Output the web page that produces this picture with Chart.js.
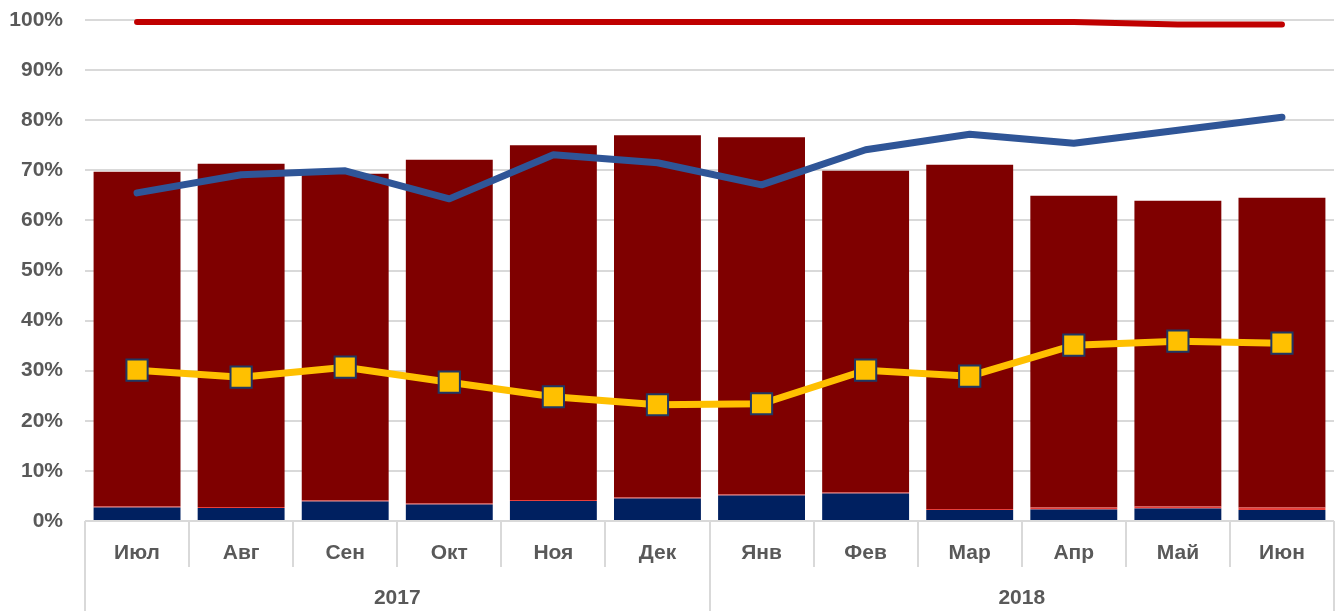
<!DOCTYPE html>
<html lang="ru">
<head>
<meta charset="UTF-8">
<title>Доли по месяцам</title>
<script src="https://cdn.jsdelivr.net/npm/chart.js"></script>
<style>
  html, body { margin: 0; padding: 0; background: #fff; }
  #wrap { width: 1340px; height: 611px; position: relative; }
</style>
</head>
<body>
<div id="wrap"><canvas id="chart"></canvas></div>
<script>
// данные (в процентах)
const months = ['Июл', 'Авг', 'Сен', 'Окт', 'Ноя', 'Дек', 'Янв', 'Фев', 'Мар', 'Апр', 'Май', 'Июн'];
const yearLabels = ['2017', '2018'];
const yearSpans = [6, 6];
const yTicks = [0, 10, 20, 30, 40, 50, 60, 70, 80, 90, 100];

const navyBars = [2.7, 2.6, 3.9, 3.3, 4.0, 4.5, 5.1, 5.5, 2.2, 2.3, 2.5, 2.2];
const redBars  = [0.2, 0.2, 0.2, 0.2, 0.2, 0.2, 0.2, 0.2, 0.2, 0.4, 0.4, 0.5];
const darkBars = [66.8, 68.5, 65.2, 68.6, 70.8, 72.3, 71.3, 64.2, 68.7, 62.2, 61.0, 61.8];

const redLine    = [99.6, 99.6, 99.6, 99.6, 99.6, 99.6, 99.6, 99.6, 99.6, 99.6, 99.1, 99.1];
const blueLine   = [65.5, 69.1, 69.9, 64.3, 73.1, 71.5, 67.1, 74.1, 77.2, 75.4, 78.0, 80.6];
const yellowLine = [30.1, 28.7, 30.7, 27.7, 24.8, 23.2, 23.4, 30.1, 28.9, 35.1, 35.9, 35.5];

const textColor = '#595959';
const gridColor = '#d9d9d9';
const font = { family: '"Liberation Sans", Arial, sans-serif', size: 21, weight: 'bold' };

// двухуровневая подпись оси X: разделители и годы
const categoryAxisPlugin = {
    id: 'categoryAxis',
    afterDraw(chart) {
        const ctx = chart.ctx;
        const x = chart.scales.x;
        const area = chart.chartArea;
        const step = x.width / months.length;
        const yearEdges = [0];
        yearSpans.forEach(s => yearEdges.push(yearEdges[yearEdges.length - 1] + s));

        ctx.save();
        ctx.strokeStyle = gridColor;
        ctx.lineWidth = 2;
        for (let i = 0; i <= months.length; i++) {
            const bx = Math.round(x.left + i * step);
            const full = yearEdges.includes(i);
            ctx.beginPath();
            ctx.moveTo(bx, area.bottom);
            ctx.lineTo(bx, full ? chart.height : area.bottom + 46);
            ctx.stroke();
        }
        ctx.fillStyle = textColor;
        ctx.font = `${font.weight} ${font.size}px ${font.family}`;
        ctx.textAlign = 'center';
        ctx.textBaseline = 'middle';
        yearLabels.forEach((label, k) => {
            const cx = x.left + (yearEdges[k] + yearEdges[k + 1]) / 2 * step;
            ctx.fillText(label, cx, area.bottom + 77);
        });
        ctx.restore();
    }
};

new Chart(document.getElementById('chart'), {
    data: {
        labels: months,
        datasets: [
            { type: 'line', label: 'red', data: redLine, borderColor: '#c00000', borderWidth: 6,
              borderCapStyle: 'round', pointRadius: 0, stack: 'l1', order: 0, clip: false },
            { type: 'line', label: 'blue', data: blueLine, borderColor: '#2f5597', borderWidth: 7,
              borderCapStyle: 'round', borderJoinStyle: 'round', pointRadius: 0, stack: 'l2', order: 0, clip: false },
            { type: 'line', label: 'yellow', data: yellowLine, borderColor: '#ffc000', borderWidth: 7,
              pointStyle: 'rect', pointRadius: 15, pointBackgroundColor: '#ffc000',
              pointBorderColor: '#1f3864', pointBorderWidth: 2, stack: 'l3', order: 0, clip: false },
            { type: 'bar', label: 'navy', data: navyBars, backgroundColor: '#002060', stack: 'bars', order: 1 },
            { type: 'bar', label: 'redBar', data: redBars, backgroundColor: '#e8403c', stack: 'bars', order: 1 },
            { type: 'bar', label: 'dark', data: darkBars, backgroundColor: '#7f0000', stack: 'bars', order: 1 }
        ]
    },
    options: {
        responsive: true,
        maintainAspectRatio: false,
        animation: false,
        layout: { autoPadding: false, padding: { top: 20, right: 6, left: 0, bottom: 0 } },
        plugins: { legend: { display: false }, tooltip: { enabled: false } },
        datasets: { bar: { barPercentage: 0.835, categoryPercentage: 1 } },
        scales: {
            x: {
                stacked: true,
                grid: { display: false },
                border: { display: false },
                ticks: { color: textColor, font: font, padding: 12, maxRotation: 0 },
                afterFit(scale) { scale.height = 90; }
            },
            y: {
                stacked: true,
                min: 0,
                max: 100,
                afterBuildTicks(scale) { scale.ticks = yTicks.map(v => ({ value: v })); },
                grid: { color: gridColor, lineWidth: 2, drawTicks: false },
                border: { display: false },
                ticks: { color: textColor, font: font, padding: 22, callback: v => v + '%' },
                afterFit(scale) {
                    scale.width = 85;
                    scale.paddingTop = 0;
                    scale.paddingBottom = 0;
                }
            }
        }
    },
    plugins: [categoryAxisPlugin]
});
</script>
</body>
</html>
